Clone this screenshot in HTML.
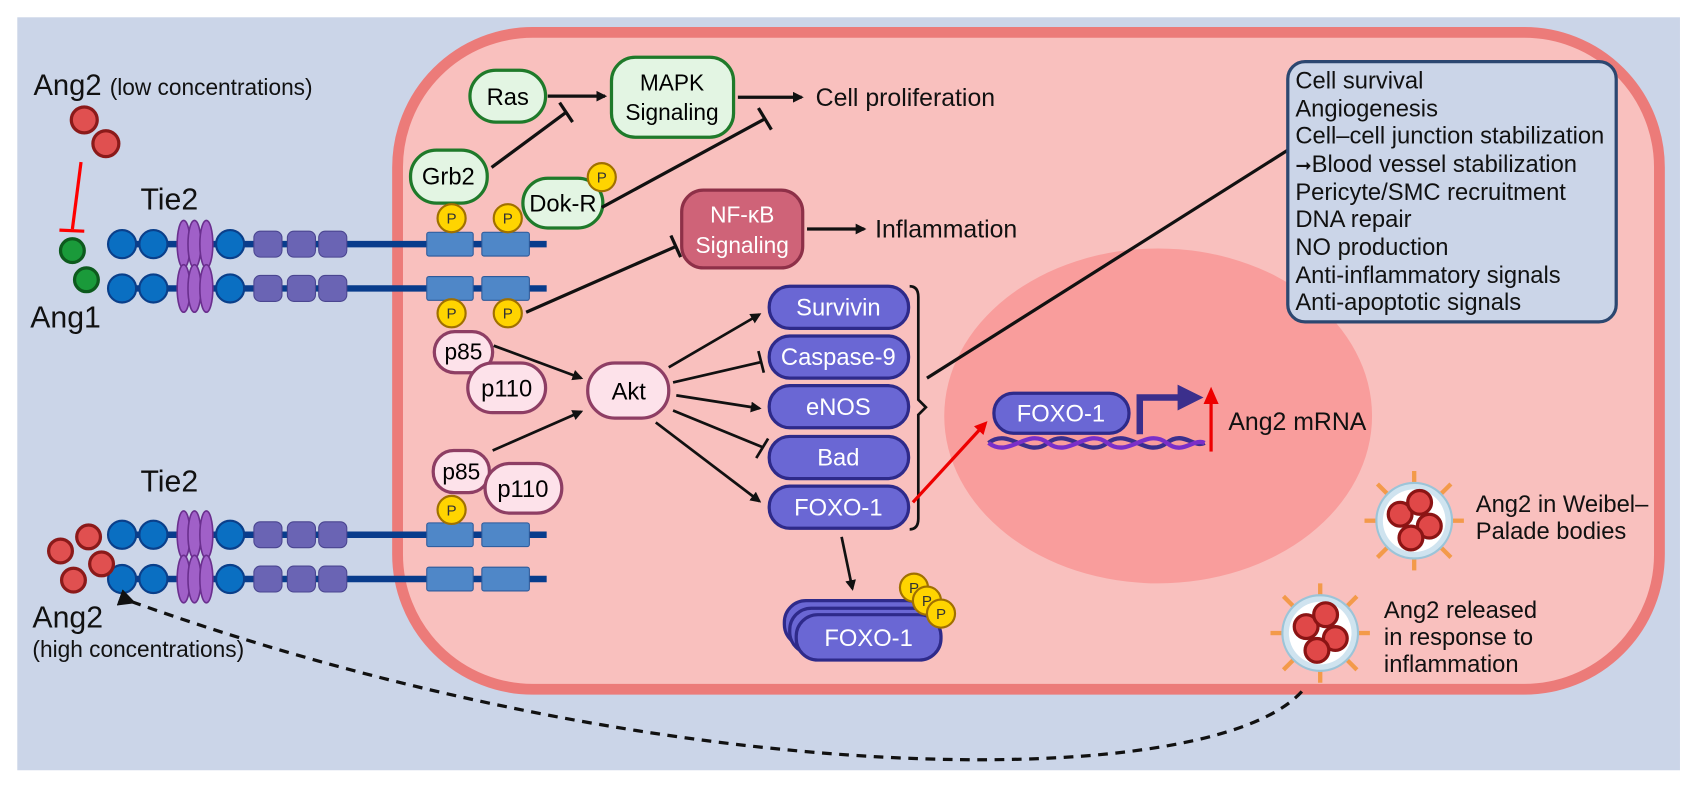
<!DOCTYPE html>
<html><head><meta charset="utf-8"><style>
html,body{margin:0;padding:0;background:#fff;}
svg{display:block;font-family:"Liberation Sans",sans-serif;}
</style></head><body>
<svg width="1694" height="787" viewBox="0 0 1568 728.5" preserveAspectRatio="none" xmlns="http://www.w3.org/2000/svg">
<defs>
<marker id="ah" markerWidth="10" markerHeight="10" refX="8" refY="5" orient="auto" markerUnits="userSpaceOnUse"><path d="M0,0 L10,5 L0,10 z" fill="#111"/></marker>
<marker id="ahr" markerWidth="12" markerHeight="12" refX="9" refY="6" orient="auto" markerUnits="userSpaceOnUse"><path d="M0,0 L12,6 L0,12 z" fill="#e00"/></marker>
<marker id="ahd" markerWidth="16" markerHeight="16" refX="4" refY="8" orient="auto" markerUnits="userSpaceOnUse"><path d="M16,0 L0,8 L16,16 z" fill="#111"/></marker>
<g id="rec">
<line x1="100" y1="0" x2="506" y2="0" stroke="#083c8c" stroke-width="6"/>
<circle cx="113" cy="0" r="13" fill="#0a6fc2" stroke="#0a3f8a" stroke-width="2"/>
<circle cx="142" cy="0" r="13" fill="#0a6fc2" stroke="#0a3f8a" stroke-width="2"/>
<ellipse cx="170" cy="0" rx="6" ry="22" fill="#a060c8" stroke="#6a2f8e" stroke-width="1.5"/>
<ellipse cx="180" cy="0" rx="6" ry="22" fill="#a060c8" stroke="#6a2f8e" stroke-width="1.5"/>
<ellipse cx="191" cy="0" rx="6" ry="22" fill="#a060c8" stroke="#6a2f8e" stroke-width="1.5"/>
<circle cx="213" cy="0" r="13" fill="#0a6fc2" stroke="#0a3f8a" stroke-width="2"/>
<rect x="235" y="-12" width="26" height="24" rx="6" fill="#6a64b4" stroke="#4a4590"/>
<rect x="266" y="-12" width="26" height="24" rx="6" fill="#6a64b4" stroke="#4a4590"/>
<rect x="295" y="-12" width="26" height="24" rx="6" fill="#6a64b4" stroke="#4a4590"/>
<rect x="395" y="-11" width="43" height="22" rx="2" fill="#4f87c8" stroke="#2d5a9a"/>
<rect x="446" y="-11" width="44" height="22" rx="2" fill="#4f87c8" stroke="#2d5a9a"/>
</g>
<g id="P"><circle r="13" fill="#ffd400" stroke="#a07000" stroke-width="2"/><text y="5" text-anchor="middle" font-size="14" fill="#333">P</text></g>
<g id="ves">
<g stroke="#f39a4a" stroke-width="4" fill="#f39a4a">
<line x1="0" y1="-34" x2="0" y2="-46"/><line x1="24" y1="-24" x2="34" y2="-34"/><line x1="34" y1="0" x2="46" y2="0"/><line x1="24" y1="24" x2="34" y2="34"/><line x1="0" y1="34" x2="0" y2="46"/><line x1="-24" y1="24" x2="-34" y2="34"/><line x1="-34" y1="0" x2="-46" y2="0"/><line x1="-24" y1="-24" x2="-34" y2="-34"/>
</g>
<circle r="35" fill="#cfe3ef" stroke="#9cc4d8" stroke-width="2"/>
<circle r="29" fill="#fff"/>
<g fill="#e04848" stroke="#8b1414" stroke-width="3"><circle cx="-13" cy="-6" r="11"/><circle cx="5" cy="-17" r="11"/><circle cx="14" cy="5" r="11"/><circle cx="-3" cy="16" r="11"/></g>
</g>
</defs>
<rect x="16" y="16" width="1539" height="697" fill="#cbd5e8"/>
<rect x="368" y="30" width="1168" height="608" rx="125" fill="#f9c0be" stroke="#ec7b79" stroke-width="10"/>
<ellipse cx="1072" cy="385" rx="198" ry="155" fill="#f99d9c"/>

<!-- left ligands -->
<text x="31" y="88" font-size="27" fill="#111">Ang2 <tspan font-size="21">(low concentrations)</tspan></text>
<circle cx="78" cy="111" r="12" fill="#e05050" stroke="#8b1a1a" stroke-width="3"/>
<circle cx="98" cy="133" r="12" fill="#e05050" stroke="#8b1a1a" stroke-width="3"/>
<line x1="75" y1="150" x2="67" y2="212" stroke="#f00" stroke-width="3"/>
<line x1="55" y1="213" x2="78" y2="214" stroke="#f00" stroke-width="3"/>
<circle cx="67" cy="232" r="11" fill="#1a9a3a" stroke="#0d5a1d" stroke-width="3"/>
<circle cx="80" cy="259" r="11" fill="#1a9a3a" stroke="#0d5a1d" stroke-width="3"/>
<text x="28" y="303" font-size="28" fill="#111">Ang1</text>
<text x="130" y="194" font-size="28" fill="#111">Tie2</text>

<use href="#rec" y="226"/>
<use href="#rec" y="267"/>
<use href="#rec" y="495"/>
<use href="#rec" y="536"/>
<text x="130" y="455" font-size="28" fill="#111">Tie2</text>
<g fill="#e05050" stroke="#8b1a1a" stroke-width="3">
<circle cx="82" cy="497" r="11"/><circle cx="56" cy="510" r="11"/><circle cx="94" cy="522" r="11"/><circle cx="68" cy="537" r="11"/></g>
<text x="30" y="581" font-size="28" fill="#111">Ang2</text>
<text x="30" y="608" font-size="21" fill="#111">(high concentrations)</text>

<!-- MAPK branch -->
<rect x="380" y="139" width="71" height="49" rx="24" fill="#e3f5e3" stroke="#1f7a2a" stroke-width="3"/>
<text x="415" y="171" text-anchor="middle" font-size="22">Grb2</text>
<rect x="435" y="65" width="70" height="48" rx="24" fill="#e3f5e3" stroke="#1f7a2a" stroke-width="3"/>
<text x="470" y="97" text-anchor="middle" font-size="22">Ras</text>
<rect x="566" y="53" width="113" height="74" rx="22" fill="#e3f5e3" stroke="#1f7a2a" stroke-width="3"/>
<text x="622" y="84" text-anchor="middle" font-size="21">MAPK</text>
<text x="622" y="111" text-anchor="middle" font-size="21">Signaling</text>
<rect x="484" y="165" width="74" height="46" rx="23" fill="#e3f5e3" stroke="#1f7a2a" stroke-width="3"/>
<text x="521" y="196" text-anchor="middle" font-size="22">Dok-R</text>
<use href="#P" x="557" y="164"/>
<use href="#P" x="418" y="202"/><use href="#P" x="470" y="202"/>
<use href="#P" x="418" y="290"/><use href="#P" x="470" y="290"/>
<line x1="507" y1="89" x2="560" y2="89" stroke="#111" stroke-width="3" marker-end="url(#ah)"/>
<line x1="455" y1="155" x2="524" y2="104" stroke="#111" stroke-width="3"/>
<line x1="518" y1="95" x2="530" y2="113" stroke="#111" stroke-width="3"/>
<line x1="683" y1="90" x2="742" y2="90" stroke="#111" stroke-width="3" marker-end="url(#ah)"/>
<text x="755" y="98" font-size="23" fill="#111">Cell proliferation</text>
<line x1="557" y1="192" x2="708" y2="110" stroke="#111" stroke-width="3"/>
<line x1="702" y1="100" x2="714" y2="120" stroke="#111" stroke-width="3"/>

<!-- NF-kB -->
<rect x="631" y="176" width="112" height="72" rx="20" fill="#cf6378" stroke="#8e3048" stroke-width="3"/>
<text x="687" y="206" text-anchor="middle" font-size="21" fill="#fff">NF-κB</text>
<text x="687" y="234" text-anchor="middle" font-size="21" fill="#fff">Signaling</text>
<line x1="487" y1="289" x2="626" y2="228" stroke="#111" stroke-width="3"/>
<line x1="621" y1="218" x2="630" y2="238" stroke="#111" stroke-width="3"/>
<line x1="747" y1="212" x2="800" y2="212" stroke="#111" stroke-width="3" marker-end="url(#ah)"/>
<text x="810" y="220" font-size="23" fill="#111">Inflammation</text>

<!-- PI3K / Akt -->
<rect x="402" y="307" width="54" height="38" rx="19" fill="#fde2ea" stroke="#8e3e64" stroke-width="3"/>
<text x="429" y="333" text-anchor="middle" font-size="21">p85</text>
<rect x="433" y="336" width="72" height="46" rx="23" fill="#fde2ea" stroke="#8e3e64" stroke-width="3"/>
<text x="469" y="367" text-anchor="middle" font-size="22">p110</text>
<rect x="544" y="336" width="75" height="51" rx="25" fill="#fde2ea" stroke="#8e3e64" stroke-width="3"/>
<text x="582" y="370" text-anchor="middle" font-size="22">Akt</text>
<rect x="401" y="417" width="52" height="39" rx="19" fill="#fde2ea" stroke="#8e3e64" stroke-width="3"/>
<text x="427" y="444" text-anchor="middle" font-size="21">p85</text>
<rect x="449" y="429" width="71" height="46" rx="23" fill="#fde2ea" stroke="#8e3e64" stroke-width="3"/>
<text x="484" y="460" text-anchor="middle" font-size="22">p110</text>
<use href="#P" x="418" y="472"/>
<line x1="457" y1="320" x2="538" y2="350" stroke="#111" stroke-width="2.5" marker-end="url(#ah)"/>
<line x1="456" y1="417" x2="538" y2="381" stroke="#111" stroke-width="2.5" marker-end="url(#ah)"/>

<!-- targets -->
<g fill="#6a67d4" stroke="#2e2a8a" stroke-width="3">
<rect x="712" y="265" width="129" height="39" rx="19"/>
<rect x="712" y="311" width="129" height="39" rx="19"/>
<rect x="712" y="357" width="129" height="39" rx="19"/>
<rect x="712" y="404" width="129" height="39" rx="19"/>
<rect x="712" y="450" width="129" height="39" rx="19"/>
</g>
<g fill="#fff" font-size="22" text-anchor="middle">
<text x="776" y="292">Survivin</text><text x="776" y="338">Caspase-9</text><text x="776" y="384">eNOS</text><text x="776" y="431">Bad</text><text x="776" y="477">FOXO-1</text>
</g>
<g stroke="#111" stroke-width="2.5">
<line x1="619" y1="340" x2="703" y2="291" marker-end="url(#ah)"/>
<line x1="623" y1="354" x2="705" y2="335"/><line x1="702" y1="325" x2="707" y2="345"/>
<line x1="626" y1="366" x2="703" y2="378" marker-end="url(#ah)"/>
<line x1="623" y1="380" x2="706" y2="414"/><line x1="700" y1="424" x2="711" y2="406"/>
<line x1="607" y1="391" x2="703" y2="464" marker-end="url(#ah)"/>
</g>
<path d="M842,265 Q850,265 850,275 L850,370 L857,377 L850,384 L850,480 Q850,490 842,490" fill="none" stroke="#111" stroke-width="2.5"/>
<line x1="858" y1="350" x2="1192" y2="139" stroke="#111" stroke-width="3"/>

<!-- list box -->
<rect x="1192" y="57" width="304" height="241" rx="16" fill="#cbd5e8" stroke="#2c4770" stroke-width="3"/>
<g font-size="22" fill="#111">
<text x="1199" y="82">Cell survival</text>
<text x="1199" y="108">Angiogenesis</text>
<text x="1199" y="133">Cell–cell junction stabilization</text>
<text x="1199" y="159"><tspan font-size="18">➞</tspan>Blood vessel stabilization</text>
<text x="1199" y="185">Pericyte/SMC recruitment</text>
<text x="1199" y="210">DNA repair</text>
<text x="1199" y="236">NO production</text>
<text x="1199" y="262">Anti-inflammatory signals</text>
<text x="1199" y="287">Anti-apoptotic signals</text>
</g>

<!-- FOXO stack -->
<line x1="779" y1="497" x2="789" y2="545" stroke="#111" stroke-width="2.5" marker-end="url(#ah)"/>
<g fill="#6a67d4" stroke="#2e2a8a" stroke-width="3">
<rect x="726" y="556" width="134" height="42" rx="20"/>
<rect x="731" y="563" width="134" height="42" rx="20"/>
<rect x="737" y="569" width="134" height="42" rx="20"/>
</g>
<text x="804" y="598" text-anchor="middle" font-size="22" fill="#fff">FOXO-1</text>
<use href="#P" x="846" y="544"/><use href="#P" x="858" y="556"/><use href="#P" x="871" y="568"/>

<!-- nucleus content -->
<line x1="845" y1="465" x2="912" y2="392" stroke="#e00" stroke-width="3" marker-end="url(#ahr)"/>
<path d="M915,410 C935,395 950,425 970,410 C990,395 1005,425 1025,410 C1045,395 1060,425 1080,410 C1095,398 1105,415 1115,410" fill="none" stroke="#3b2f8c" stroke-width="4"/>
<path d="M915,410 C935,425 950,395 970,410 C990,425 1005,395 1025,410 C1045,425 1060,395 1080,410 C1095,422 1105,405 1115,410" fill="none" stroke="#7a2fc8" stroke-width="4"/>
<rect x="920" y="364" width="125" height="37" rx="18" fill="#6a67d4" stroke="#2e2a8a" stroke-width="3"/>
<text x="982" y="390" text-anchor="middle" font-size="22" fill="#fff">FOXO-1</text>
<path d="M1055,402 L1055,368 L1093,368" fill="none" stroke="#3b2f8c" stroke-width="6"/>
<path d="M1090,356 L1114,368 L1090,380 z" fill="#3b2f8c"/>
<line x1="1121" y1="418" x2="1121" y2="372" stroke="#e00" stroke-width="3"/>
<path d="M1114,374 L1121,358 L1128,374 z" fill="#e00"/>
<text x="1137" y="398" font-size="23" fill="#111">Ang2 mRNA</text>

<!-- vesicles -->
<use href="#ves" x="1309" y="482"/>
<use href="#ves" x="1222" y="586"/>
<text x="1366" y="474" font-size="22" fill="#111">Ang2 in Weibel–</text>
<text x="1366" y="499" font-size="22" fill="#111">Palade bodies</text>
<text x="1281" y="572" font-size="22" fill="#111">Ang2 released</text>
<text x="1281" y="597" font-size="22" fill="#111">in response to</text>
<text x="1281" y="622" font-size="22" fill="#111">inflammation</text>

<path d="M1205,640 C1120,735 620,735 122,557" fill="none" stroke="#111" stroke-width="3" stroke-dasharray="9,7" marker-end="url(#ahd)"/>
</svg>
</body></html>
